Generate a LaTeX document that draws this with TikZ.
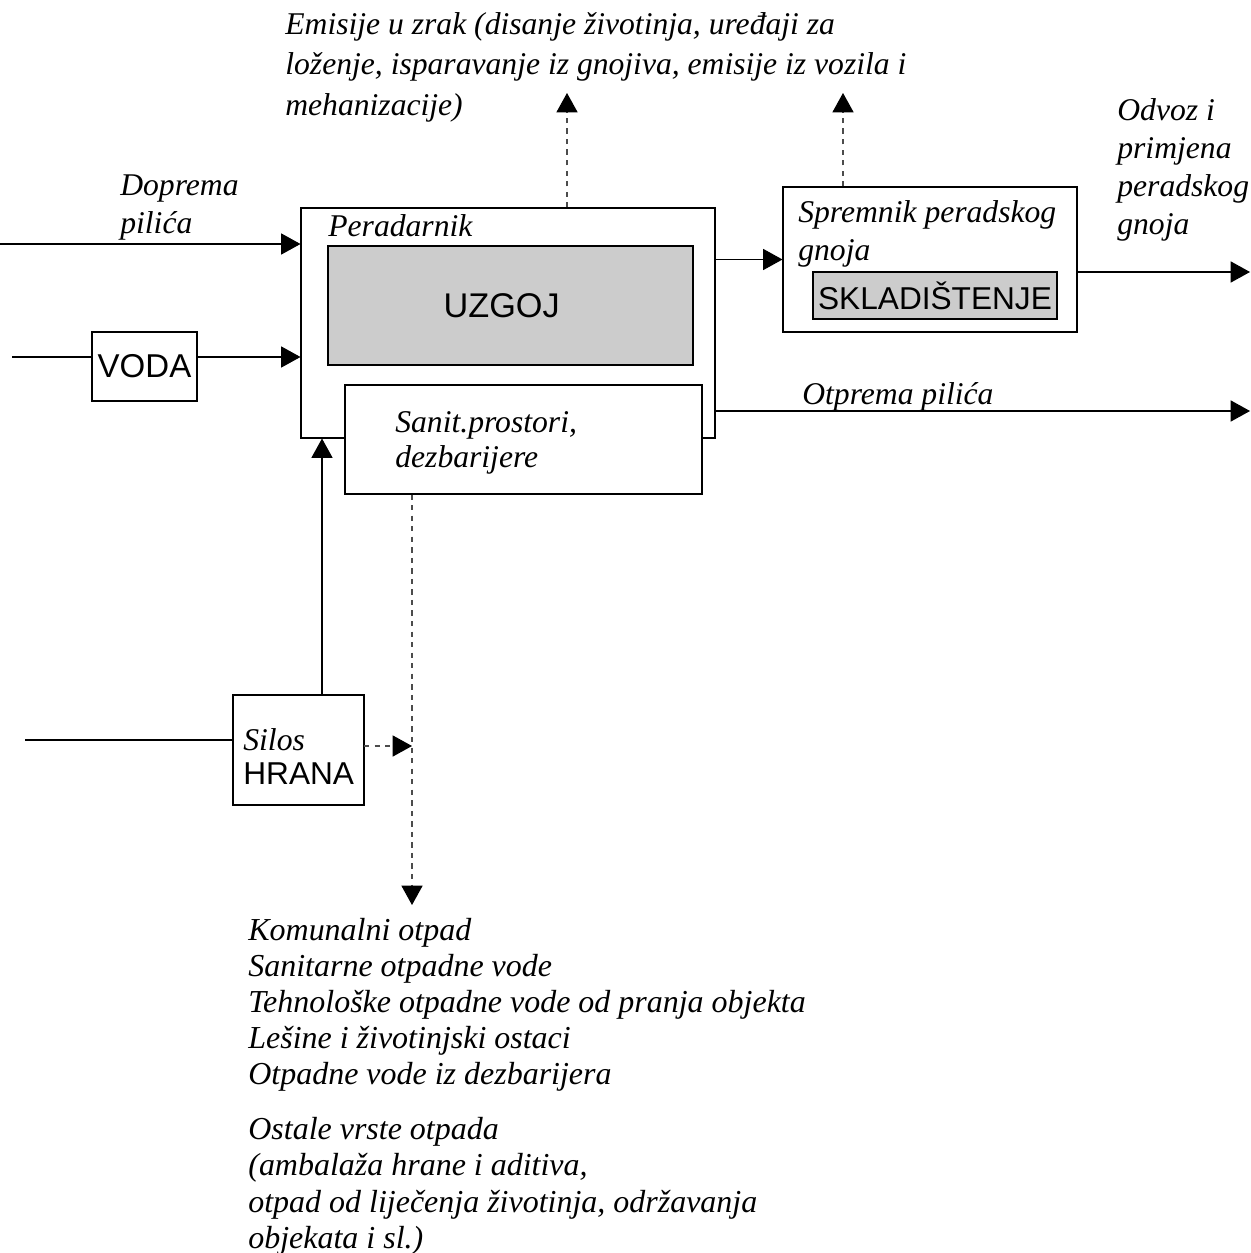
\documentclass[tikz,border=0pt]{standalone}
\usepackage{fontspec}
\setmainfont{Liberation Serif}
\setsansfont{Liberation Sans}
\usetikzlibrary{arrows.meta}

\tikzset{
  box/.style={draw, line width=0.6pt, fill=white, inner sep=0pt},
  gbox/.style={box, fill=black!20},
  sz/.style 2 args={minimum width=#1*0.02cm, minimum height=#2*0.02cm},
  lbl/.style={anchor=north west, inner sep=0pt, align=left, font=\itshape\fontsize{18}{21.6}\selectfont},
  caps/.style={font=\sffamily\fontsize{18}{21.6}\selectfont},
  flow/.style={line width=0.6pt, -{Triangle[length=11pt, width=12pt, color=black]}},
  waste/.style={flow, dash pattern=on 3pt off 3pt, draw=black!70},
}

\begin{document}
\begin{tikzpicture}[x=0.02cm, y=-0.02cm]
    \useasboundingbox (0,0) rectangle (1250,1253);

    % Peradarnik
    \node[box, sz={414}{230}] (per) at (508,323) {};
    \node[lbl] (perl) at (328,214) {Peradarnik};
    % Uzgoj
    \node[gbox, sz={365}{119}, caps, font=\sffamily\fontsize{19.5}{22}\selectfont] (uzg) at (510.5,305.5)
        {\hspace*{-10pt}UZGOJ};
    % Sanitarni prostori
    \node[box, sz={357}{109}] (san) at (523.5,439.5) {};
    \node[lbl, font=\itshape\fontsize{18}{20}\selectfont] (sanl) at (395,411) {Sanit.prostori,\\dezbarijere};

    % Voda
    \node[box, sz={105}{69}, caps, font=\sffamily\fontsize{18.8}{21.6}\selectfont] (voda) at (144.5,366.5)
        {\raisebox{-3pt}{VODA}};
    % Silos
    \node[box, sz={131}{110}] (sil) at (298.5,750) {};
    \node[lbl, font=\fontsize{18}{19.6}\selectfont] (sill) at (243,728) {{\itshape Silos}\\{\sffamily HRANA}};

    % Spremnik gnoja
    \node[box, sz={294}{145}] (spr) at (930,259.5) {};
    \node[lbl] (sprl) at (798,200) {Spremnik peradskog\\gnoja};
    \node[gbox, sz={244}{47}, caps] (skl) at (935,295.5) {SKLADIŠTENJE};

    % Free ends
    \coordinate (dopIn) at (0,244);
    \coordinate (vodIn) at (12,357);
    \coordinate (silIn) at (25,740);
    \coordinate (silUp) at (322,695);
    \coordinate (silOut) at (364,746);
    \coordinate (drop) at (412,905);
    \coordinate (emi) at (567,93);
    \coordinate (emiS) at (843,93);
    \coordinate (odv) at (1250,272);
    \coordinate (otp) at (1250,411);

    % Ulazi
    \draw[flow] (dopIn) -- (dopIn -| per.west);
    \draw[line width=0.6pt] (vodIn) -- (vodIn -| voda.west);
    \draw[flow] (vodIn -| voda.east) -- (vodIn -| per.west);
    \draw[line width=0.6pt] (silIn) -- (silIn -| sil.west);
    \draw[flow] (silUp) -- (silUp |- per.south);

    % Izlazi
    \draw[flow] (per.east |- spr.west) -- (spr.west);
    \draw[flow] (odv -| spr.east) -- (odv);
    \draw[flow] (otp -| per.east) -- (otp);
    \draw[waste] (emi |- per.north) -- (emi);
    \draw[waste] (emiS |- spr.north) -- (emiS);
    \draw[waste] (drop |- san.south) -- (drop);
    \draw[waste] (silOut) -- (silOut -| drop);

    % Labels
    \node[lbl, font=\itshape\fontsize{18}{23}\selectfont] (emil) at (285,12)
        {Emisije u zrak (disanje životinja, uređaji za\\ loženje, isparavanje iz gnojiva, emisije iz vozila i\\ mehanizacije)};
    \node[lbl] (dopl) at (120,174) {Doprema\\ pilića};
    \node[lbl] (odvl) at (1117,98) {Odvoz i\\primjena\\peradskog\\gnoja};
    \node[lbl, anchor=base west] (otpl) at (802,404) {Otprema pilića};
    \node[lbl, font=\itshape\fontsize{18.2}{20.5}\selectfont] (otpad) at (248,918)
        {Komunalni otpad\\
         Sanitarne otpadne vode\\
         Tehnološke otpadne vode od pranja objekta\\
         Lešine i životinjski ostaci\\
         Otpadne vode iz dezbarijera\\[11pt]
         Ostale vrste otpada\\
         (ambalaža hrane i aditiva,\\
         otpad od liječenja životinja, održavanja\\
         objekata i sl.)};
\end{tikzpicture}
\end{document}
